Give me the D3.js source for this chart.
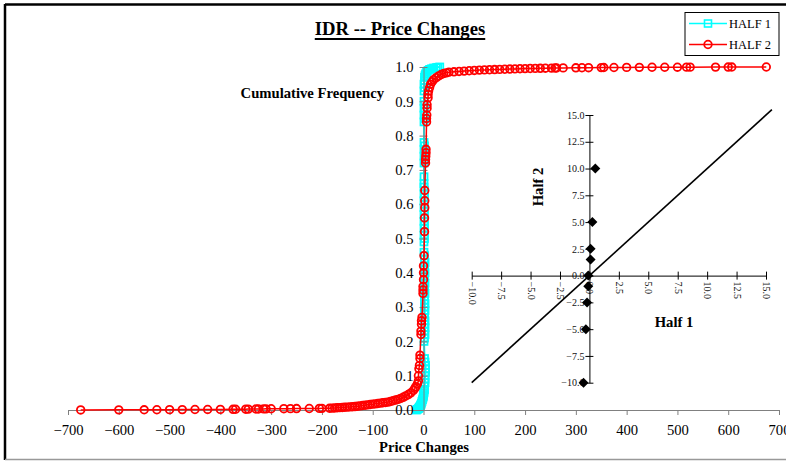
<!DOCTYPE html>
<html>
<head>
<meta charset="utf-8">
<script src="https://cdn.jsdelivr.net/npm/d3@7"></script>
<style>
  body { margin: 0; background: #fff; }
  svg { display: block; }
  text { font-family: "Liberation Serif", "Times New Roman", serif; }
</style>
</head>
<body>
<svg id="chart" width="786" height="462"></svg>
<script>
// ---- cumulative frequency of price changes, first half ----
const half1X = [-14,-12,-10,-9,-8,-7,-6,-5,-4,-3,-2,-1,0,0,1,1,2,2,3,3,3,4,4,4,3,2,
  1,2,3,2,3,2,3,2,2,3,2,3,2,2,3,2,2,3,2,2,3,2,2,3,2,2,1,
  1,2,1,2,1,2,1,2,1,2,1,2,1,2,1,2,1,1,1,
  1,2,1,2,1,2,1,
  1,2,1,2,1,2,1,
  1,2,1,2,2,3,4,6,9,12,16,20,25,28,32];
const half1Y = [0,0.002,0.004,0.006,0.008,0.010,0.013,0.016,0.02,0.025,0.03,0.035,0.04,0.045,0.05,0.055,0.06,0.07,0.08,0.09,0.10,0.11,0.12,0.13,0.14,0.15,
  0.20,0.21,0.22,0.23,0.24,0.25,0.26,0.27,0.28,0.29,0.30,0.31,0.32,0.33,0.34,0.35,0.36,0.37,0.38,0.39,0.40,0.41,0.42,0.43,0.44,0.45,0.46,
  0.49,0.50,0.51,0.52,0.53,0.54,0.55,0.56,0.57,0.58,0.59,0.60,0.61,0.62,0.63,0.64,0.65,0.66,0.68,
  0.72,0.73,0.74,0.75,0.76,0.77,0.78,
  0.84,0.85,0.86,0.87,0.88,0.89,0.90,
  0.93,0.94,0.95,0.96,0.97,0.975,0.98,0.985,0.99,0.993,0.995,0.997,0.998,0.999,1.0];

// ---- cumulative frequency of price changes, second half ----
const half2X = [-675,-600,-550,-525,-500,-475,-450,-425,-400,-375,-370,-350,-345,-330,-325,-315,-310,-300,-275,-262,-250,-225,-205,-200,-185,
  -180,-175,-170,-165,-160,-155,-150,-145,-140,-135,-130,-125,-120,-115,-110,-105,-100,
  -95,-90,-85,-80,-75,-70,-65,-60,-55,-50,-45,-40,-35,-30,-25,-20,-17,-15,-12,-10,
  -10,-9,-8,-7,-7,-5,-5,-4,-4,-3,-1,-1,-1,0,0,0,1,2,2,2.5,2.5,2.5,4,4,4.5,5,5,6,6,6.5,7,7,9,9,10,
  12,14,17,20,25,30,35,40,45,50,60,70,80,90,100,110,120,130,140,150,160,170,180,190,200,210,220,230,240,
  252,259,262,275,300,312,325,350,355,375,400,425,450,475,500,518,525,575,600,607,675];
const half2Y = [0.0002,0.0004,0.0006,0.0008,0.001,0.0012,0.0014,0.0016,0.0018,0.002,0.0022,0.0024,0.0026,0.0028,0.003,0.0032,0.0034,0.0036,0.0038,0.004,0.0042,0.0044,0.0046,0.0048,0.005,
  0.0055,0.006,0.0065,0.007,0.0075,0.008,0.0085,0.009,0.0095,0.010,0.011,0.012,0.013,0.014,0.015,0.016,0.017,
  0.018,0.019,0.020,0.021,0.022,0.023,0.025,0.027,0.029,0.031,0.034,0.037,0.041,0.045,0.050,0.057,0.063,0.068,0.076,0.085,
  0.10,0.12,0.13,0.15,0.16,0.22,0.23,0.25,0.26,0.27,0.34,0.35,0.36,0.38,0.40,0.42,0.45,0.52,0.56,0.59,0.61,0.64,0.72,0.73,0.74,0.75,0.76,0.84,0.85,0.86,0.88,0.89,0.91,0.92,0.93,
  0.94,0.95,0.957,0.963,0.969,0.974,0.978,0.981,0.983,0.985,0.986,0.987,0.988,0.989,0.990,0.991,0.9915,0.992,0.9925,0.993,0.9935,0.994,0.9945,0.995,0.9953,0.9956,0.9959,0.9962,0.9965,
  0.9968,0.997,0.9972,0.9974,0.9976,0.9978,0.998,0.9982,0.9984,0.9986,0.9988,0.999,0.9992,0.9993,0.9994,0.9995,0.9996,0.9997,0.9998,0.9999,1.0];

const priceTicks = [-700,-600,-500,-400,-300,-200,-100,0,100,200,300,400,500,600,700];
const freqTicks = [0,0.1,0.2,0.3,0.4,0.5,0.6,0.7,0.8,0.9,1.0];

// ---- quantile comparison of the two halves ----
const qqHalf1 = [0.5,0.25,0.1,0.1,-0.1,-0.1,-0.2,-0.3,-0.5];
const qqHalf2 = [10,5,2.5,1.5,0,-1,-2.5,-5,-10];
const qqTicks = [-10,-7.5,-5,-2.5,0,2.5,5,7.5,10,12.5,15];
const equalLine = [-10, 15.5];

const svg = d3.select("#chart");
const FONT = '"Liberation Serif", "Times New Roman", serif';

// outer frame
svg.append("line").attr("x1",5).attr("y1",4.5).attr("x2",786).attr("y2",4.5).attr("stroke","#000").attr("stroke-width",2.5);
svg.append("line").attr("x1",5).attr("y1",4).attr("x2",5).attr("y2",460).attr("stroke","#000").attr("stroke-width",2.5);
svg.append("line").attr("x1",5).attr("y1",459.5).attr("x2",786).attr("y2",459.5).attr("stroke","#999").attr("stroke-width",1.5);

// title
const title = svg.append("text").attr("x",400).attr("y",35).attr("text-anchor","middle")
  .attr("font-size",18.67).attr("font-weight","bold").text("IDR -- Price Changes");
const tw = title.node().getComputedTextLength();
svg.append("line").attr("x1",400 - tw/2).attr("x2",400 + tw/2).attr("y1",39).attr("y2",39)
  .attr("stroke","#000").attr("stroke-width",1.8);

// main scales
const x = d3.scaleLinear().domain([-700,700]).range([68,779]);
const y = d3.scaleLinear().domain([0,1]).range([410,67]);
const line = d3.line().x(d => x(d[0])).y(d => y(d[1]));

const h1 = half1X.map((v,i) => [v, half1Y[i]]);
const h2 = half2X.map((v,i) => [v, half2Y[i]]);

// HALF 1 series (under the axes)
const g1 = svg.append("g");
g1.append("path").datum(h1).attr("d",line).attr("fill","none").attr("stroke","#00ffff").attr("stroke-width",2);
g1.selectAll("rect").data(h1).join("rect")
  .attr("x",d => x(d[0]) - 3.5).attr("y",d => y(d[1]) - 3.5).attr("width",7).attr("height",7)
  .attr("fill","none").attr("stroke","#00ffff").attr("stroke-width",1.8);

// axes
const gx = svg.append("g").attr("transform","translate(0,410)")
  .call(d3.axisBottom(x).tickValues(priceTicks).tickSize(5).tickSizeOuter(0).tickPadding(10).tickFormat(d3.format("d")));
const gy = svg.append("g").attr("transform",`translate(${x(0)},0)`)
  .call(d3.axisLeft(y).tickValues(freqTicks).tickSize(4).tickSizeOuter(0).tickPadding(6).tickFormat(d3.format(".1f")));
gy.selectAll(".tick line").attr("x1",-4).attr("x2",4);
[gx, gy].forEach(g => {
  g.attr("font-family",FONT).attr("font-size",14.67);
  g.selectAll("path,line").attr("stroke","#808080");
  g.selectAll("text").attr("fill","#000");
});

// HALF 2 series
const g2 = svg.append("g");
g2.append("path").datum(h2).attr("d",line).attr("fill","none").attr("stroke","#ff0000").attr("stroke-width",1.5);
g2.selectAll("circle").data(h2).join("circle")
  .attr("cx",d => x(d[0])).attr("cy",d => y(d[1])).attr("r",3.8)
  .attr("fill","none").attr("stroke","#ff0000").attr("stroke-width",1.8);

// axis titles
svg.append("text").attr("x",384).attr("y",98).attr("text-anchor","end")
  .attr("font-size",14.67).attr("font-weight","bold").text("Cumulative Frequency");
svg.append("text").attr("x",424).attr("y",452).attr("text-anchor","middle")
  .attr("font-size",14.67).attr("font-weight","bold").text("Price Changes");

// legend
const lg = svg.append("g");
lg.append("rect").attr("x",685).attr("y",12.5).attr("width",94).attr("height",43)
  .attr("fill","#fff").attr("stroke","#000").attr("stroke-width",1);
const legendItems = [
  {name:"HALF 1", color:"#00ffff", shape:"square", cy:23.5},
  {name:"HALF 2", color:"#ff0000", shape:"circle", cy:44.5}
];
legendItems.forEach(it => {
  lg.append("line").attr("x1",689).attr("x2",727).attr("y1",it.cy).attr("y2",it.cy)
    .attr("stroke",it.color).attr("stroke-width",1.5);
  if (it.shape === "square") {
    lg.append("rect").attr("x",704.5).attr("y",it.cy - 3.5).attr("width",7).attr("height",7)
      .attr("fill","none").attr("stroke",it.color).attr("stroke-width",1.6);
  } else {
    lg.append("circle").attr("cx",708).attr("cy",it.cy).attr("r",3.8)
      .attr("fill","none").attr("stroke",it.color).attr("stroke-width",1.8);
  }
  lg.append("text").attr("x",729).attr("y",it.cy).attr("dy","0.35em")
    .attr("font-size",12.5).text(it.name);
});

// inset: half 1 vs half 2 quantiles
const ix = d3.scaleLinear().domain([-10,15]).range([471.7,766]);
const iy = d3.scaleLinear().domain([-10,15]).range([382.7,115]);

const igx = svg.append("g").attr("transform",`translate(0,${iy(0)})`)
  .call(d3.axisBottom(ix).tickValues(qqTicks).tickSize(4).tickSizeOuter(0).tickFormat(d3.format(".1f")));
igx.selectAll(".tick line").attr("y1",-4).attr("y2",4);
igx.selectAll(".tick text").attr("transform","rotate(90)").attr("text-anchor","start")
  .attr("x",6).attr("y",0).attr("dy","0.35em");

const igy = svg.append("g").attr("transform",`translate(${ix(0)},0)`)
  .call(d3.axisLeft(iy).tickValues(qqTicks).tickSize(4).tickSizeOuter(0).tickPadding(1).tickFormat(d3.format(".1f")));
igy.selectAll(".tick line").attr("x1",-4).attr("x2",4);
[igx, igy].forEach(g => {
  g.attr("font-family",FONT).attr("font-size",10);
  g.selectAll("path,line").attr("stroke","#000");
  g.selectAll("text").attr("fill","#111");
});

svg.append("line")
  .attr("x1",ix(equalLine[0])).attr("y1",iy(equalLine[0]))
  .attr("x2",ix(equalLine[1])).attr("y2",iy(equalLine[1]))
  .attr("stroke","#000").attr("stroke-width",1.6);

svg.append("g").selectAll("path").data(qqHalf1.map((v,i) => [v, qqHalf2[i]])).join("path")
  .attr("d", d => {
    const cx = ix(d[0]), cy = iy(d[1]), r = 5;
    return `M${cx},${cy - r}L${cx + r},${cy}L${cx},${cy + r}L${cx - r},${cy}Z`;
  })
  .attr("fill","#000");

svg.append("text").attr("transform","translate(538,187) rotate(-90)").attr("text-anchor","middle")
  .attr("dy","0.35em").attr("font-size",14.67).attr("font-weight","bold").text("Half 2");
svg.append("text").attr("x",674).attr("y",322).attr("text-anchor","middle")
  .attr("dy","0.35em").attr("font-size",14.67).attr("font-weight","bold").text("Half 1");
</script>
</body>
</html>
